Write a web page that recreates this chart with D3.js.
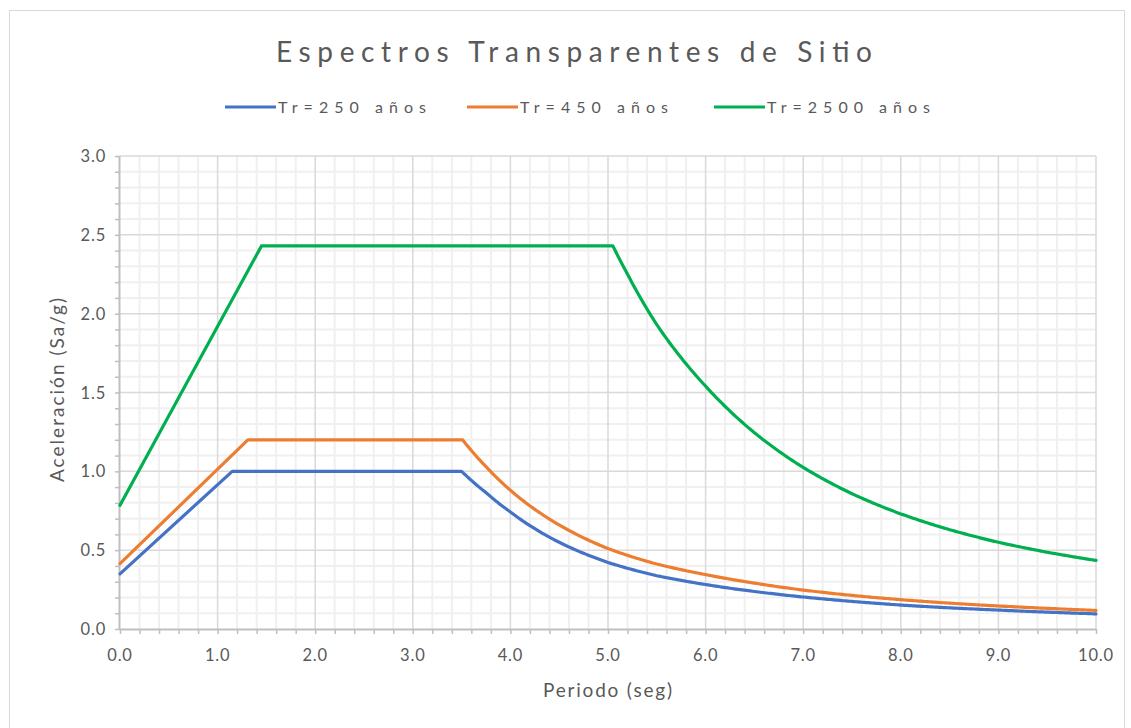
<!DOCTYPE html>
<html><head><meta charset="utf-8">
<script src="https://cdn.jsdelivr.net/npm/d3@7"></script>
<style>
html,body{margin:0;padding:0;background:#fff;}
svg text{font-family:Lato,"Open Sans",sans-serif;fill:#595959;}
</style></head>
<body><svg id="c" width="1131" height="728"></svg>
<script>
const title = "Espectros Transparentes de Sitio";
const xTitle = "Periodo (seg)";
const yTitle = "Aceleración (Sa/g)";
const seriesNames = ["Tr=250 años", "Tr=450 años", "Tr=2500 años"];
const seriesColors = ["#4472C4", "#ED7D31", "#00B050"];
const xTicks = [0,1,2,3,4,5,6,7,8,9,10];
const yTicks = [0,0.5,1,1.5,2,2.5,3];

const t250 = [0, 1.15, 3.5, 3.75, 4.0, 4.5, 5.0, 5.5, 6.0, 6.5, 7.0, 7.5, 8.0, 8.5, 9.0, 9.5, 10.0];
const sa250 = [0.35, 1.0, 1.0, 0.865, 0.742, 0.55, 0.422, 0.338, 0.282, 0.238, 0.203, 0.175, 0.152, 0.134, 0.12, 0.107, 0.096];
const t450 = [0, 1.31, 3.51, 3.75, 4.0, 4.5, 5.0, 5.5, 6.0, 6.5, 7.0, 7.5, 8.0, 8.5, 9.0, 9.5, 10.0];
const sa450 = [0.414, 1.2, 1.2, 1.03, 0.88, 0.66, 0.51, 0.412, 0.345, 0.291, 0.247, 0.213, 0.186, 0.164, 0.146, 0.131, 0.118];
const t2500 = [0, 1.45, 5.05, 5.2, 5.5, 6.0, 6.5, 7.0, 7.5, 8.0, 8.5, 9.0, 9.5, 10.0];
const sa2500 = [0.785, 2.43, 2.43, 2.25, 1.93, 1.54, 1.245, 1.025, 0.858, 0.73, 0.63, 0.55, 0.487, 0.435];
const plateauEnd = [2, 2, 2];

const svg = d3.select("#c");
const L = 120, R = 1096, T = 156, B = 629;
const x = d3.scaleLinear().domain([0,10]).range([L,R]);
const y = d3.scaleLinear().domain([0,3]).range([B,T]);

// chart border
svg.append("rect").attr("x",9.5).attr("y",10.5).attr("width",1115).attr("height",730)
  .attr("fill","#fff").attr("stroke","#d9d9d9").attr("stroke-width",1);

const g = svg.append("g");
// minor grid
const xMinor = d3.range(0,10.001,0.2).filter(v => Math.abs(v - Math.round(v)) > 1e-6);
const yMinor = d3.range(0,3.001,0.1).filter(v => Math.abs(v*2 - Math.round(v*2)) > 1e-6);
g.selectAll(".xm").data(xMinor).join("line")
  .attr("x1",d=>x(d)).attr("x2",d=>x(d)).attr("y1",T).attr("y2",B)
  .attr("stroke","#f0f0f0").attr("stroke-width",2);
g.selectAll(".ym").data(yMinor).join("line")
  .attr("y1",d=>y(d)).attr("y2",d=>y(d)).attr("x1",L).attr("x2",R)
  .attr("stroke","#f0f0f0").attr("stroke-width",2);
// major grid
g.selectAll(".xM").data(xTicks.slice(1)).join("line")
  .attr("x1",d=>x(d)).attr("x2",d=>x(d)).attr("y1",T).attr("y2",B)
  .attr("stroke","#d9d9d9").attr("stroke-width",1.5);
g.selectAll(".yM").data(yTicks.slice(1)).join("line")
  .attr("y1",d=>y(d)).attr("y2",d=>y(d)).attr("x1",L).attr("x2",R)
  .attr("stroke","#d9d9d9").attr("stroke-width",1.5);

// axes
const xAxis = d3.axisBottom(x).tickValues(d3.range(0,10.001,0.2)).tickSize(5).tickFormat("");
const yAxis = d3.axisLeft(y).tickValues(d3.range(0,3.001,0.1)).tickSize(5).tickFormat("");
const gx = svg.append("g").attr("transform",`translate(0,${B})`).call(xAxis);
const gy = svg.append("g").attr("transform",`translate(${L},0)`).call(yAxis);
[gx,gy].forEach(a=>{
  a.selectAll("path").attr("stroke","#bfbfbf").attr("stroke-width",2);
  a.selectAll("line").attr("stroke","#bfbfbf").attr("stroke-width",1.5);
});
gx.select(".domain").attr("d",`M${L},0.5H${R}`);
gy.select(".domain").attr("d",`M-0.5,${B}V${T}`);

// tick labels
svg.selectAll(".xl").data(xTicks).join("text")
  .attr("x",d=>x(d)).attr("y",B+32).attr("text-anchor","middle")
  .attr("font-size",16.5).attr("letter-spacing",0.8).text(d=>d.toFixed(1));
svg.selectAll(".yl").data(yTicks).join("text")
  .attr("x",L-14).attr("y",d=>y(d)+6).attr("text-anchor","end")
  .attr("font-size",16.5).attr("letter-spacing",0.8).text(d=>d.toFixed(1));

// axis titles
svg.append("text").attr("x",543).attr("y",697)
  .attr("font-size",19).attr("textLength",129).attr("lengthAdjust","spacing").text(xTitle);
svg.append("text").attr("transform",`translate(64,482) rotate(-90)`)
  .attr("font-size",19).attr("textLength",184).attr("lengthAdjust","spacing").text(yTitle);

// title
svg.append("text").attr("x",276).attr("y",62).attr("font-size",28)
  .attr("textLength",596).attr("lengthAdjust","spacing").text(title);

// custom curve: between successive points follows a power-law (straight in log-log space)
function powerCurve(context) {
  let pts;
  return {
    areaStart(){}, areaEnd(){},
    lineStart(){ pts = []; },
    point(px, py){ pts.push([px, py]); },
    lineEnd(){
      if (!pts.length) return;
      context.moveTo(pts[0][0], pts[0][1]);
      for (let i = 1; i < pts.length; i++) {
        const xa = x.invert(pts[i-1][0]), ya = y.invert(pts[i-1][1]);
        const xb = x.invert(pts[i][0]),   yb = y.invert(pts[i][1]);
        const p = Math.log(ya / yb) / Math.log(xb / xa);
        const n = 24;
        for (let j = 1; j <= n; j++) {
          const xt = xa + (xb - xa) * j / n;
          const yt = ya * Math.pow(xa / xt, p);
          context.lineTo(x(xt), y(yt));
        }
      }
    }
  };
}

// series
const data = [
  t250.map((t,i)=>[t,sa250[i]]),
  t450.map((t,i)=>[t,sa450[i]]),
  t2500.map((t,i)=>[t,sa2500[i]])
];
const lineLin = d3.line().x(d=>x(d[0])).y(d=>y(d[1])).curve(d3.curveLinear);
const lineDecay = d3.line().x(d=>x(d[0])).y(d=>y(d[1])).curve(powerCurve);
data.forEach((pts,i)=>{
  const k = plateauEnd[i];
  const p1 = lineLin(pts.slice(0,k+1));
  const p2 = lineDecay(pts.slice(k)).replace(/^M/,"L");
  svg.append("path").attr("d",p1+p2).attr("fill","none")
    .attr("stroke",seriesColors[i]).attr("stroke-width",3.2)
    .attr("stroke-linejoin","round").attr("stroke-linecap","round");
});

// legend
const legX = [225, 467, 714];
const legW = [148, 148, 163];
seriesNames.forEach((n,i)=>{
  svg.append("line").attr("x1",legX[i]).attr("x2",legX[i]+51).attr("y1",107).attr("y2",107)
    .attr("stroke",seriesColors[i]).attr("stroke-width",3.2);
  svg.append("text").attr("x",legX[i]+53).attr("y",113).attr("font-size",16)
    .attr("textLength",legW[i]).attr("lengthAdjust","spacing").text(n);
});
</script></body></html>
